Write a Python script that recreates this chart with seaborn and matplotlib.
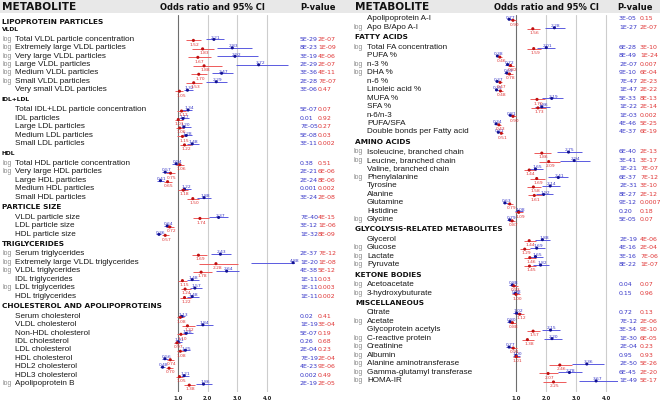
import numpy as np
import pandas as pd
import matplotlib
matplotlib.use("Agg")
import matplotlib.pyplot as plt
import matplotlib.transforms as mtransforms
import seaborn as sns

# ---------------- left panel data ----------------
left_rows = [
    ("LIPOPROTEIN PARTICLES", "h1"), ("VLDL", "h2"),
    ("Total VLDL particle concentration", "log"), ("Extremely large VLDL particles", "log"),
    ("Very large VLDL particles", "log"), ("Large VLDL particles", "log"),
    ("Medium VLDL particles", "log"), ("Small VLDL particles", "log"),
    ("Very small VLDL particles", ""),
    ("IDL+LDL", "h2"),
    ("Total IDL+LDL particle concentration", ""), ("IDL particles", ""),
    ("Large LDL particles", ""), ("Medium LDL particles", ""), ("Small LDL particles", ""),
    ("HDL", "h2"),
    ("Total HDL particle concentration", "log"), ("Very large HDL particles", "log"),
    ("Large HDL particles", ""), ("Medium HDL particles", ""), ("Small HDL particles", ""),
    ("PARTICLE SIZE", "h1"),
    ("VLDL particle size", ""), ("LDL particle size", ""), ("HDL particle size", ""),
    ("TRIGLYCERIDES", "h1"),
    ("Serum triglycerides", "log"), ("Extremely large VLDL triglycerides", "log"),
    ("VLDL triglycerides", "log"), ("IDL triglycerides", ""),
    ("LDL triglycerides", "log"), ("HDL triglycerides", ""),
    ("CHOLESTEROL AND APOLIPOPROTEINS", "h1"),
    ("Serum cholesterol", ""), ("VLDL cholesterol", ""), ("Non-HDL cholesterol", ""),
    ("IDL cholesterol", ""), ("LDL cholesterol", ""), ("HDL cholesterol", ""),
    ("HDL2 cholesterol", ""), ("HDL3 cholesterol", ""), ("Apolipoprotein B", "log"),
]
left_blue_or = [2.21, 2.83, 2.92, 3.72, 2.47, 2.29, 1.32, 1.34, 1.17, 1.20, 1.28, 1.48,
                0.94, 0.57, 0.41, 1.22, 1.88, 2.37, 0.64, 0.36, 2.43, 4.88, 2.64, 1.48,
                1.57, 1.48, 1.13, 1.84, 1.28, 1.01, 1.25, 0.56, 0.48, 1.21, 1.86]
left_blue_lo = [1.93, 2.30, 2.30, 2.96, 2.15, 1.96, 1.20, 1.15, 1.03, 1.09, 1.17, 1.31,
                0.81, 0.47, 0.31, 1.09, 1.65, 2.06, 0.53, 0.25, 2.12, 3.47, 2.29, 1.31,
                1.39, 1.31, 1.03, 1.62, 1.17, 0.91, 1.12, 0.45, 0.38, 1.09, 1.62]
left_blue_hi = [2.55, 3.50, 3.70, 4.71, 2.85, 2.66, 1.50, 1.48, 1.37, 1.43, 1.48, 1.71,
                1.09, 0.72, 0.53, 1.43, 2.10, 2.68, 0.75, 0.42, 2.79, 6.50, 3.07, 1.71,
                1.82, 1.71, 1.24, 2.18, 1.50, 1.14, 1.39, 0.68, 0.57, 1.37, 2.15]
left_red_or = [1.52, 1.83, 1.67, 1.88, 1.70, 1.53, 1.05, 1.12, 1.01, 1.06, 1.15, 1.22,
               1.06, 0.75, 0.65, 1.18, 1.50, 1.74, 0.72, 0.57, 1.69, 2.28, 1.78, 1.15,
               1.24, 1.22, 1.08, 1.32, 1.10, 0.97, 1.08, 0.74, 0.70, 1.05, 1.38]
left_red_lo = [1.28, 1.48, 1.35, 1.50, 1.43, 1.28, 0.90, 0.98, 0.90, 0.92, 0.98, 1.06,
               0.92, 0.61, 0.53, 1.01, 1.31, 1.52, 0.61, 0.45, 1.48, 1.71, 1.50, 1.01,
               1.09, 1.07, 0.98, 1.15, 0.98, 0.87, 0.97, 0.62, 0.58, 0.94, 1.20]
left_red_hi = [1.76, 2.21, 2.10, 2.47, 1.99, 1.82, 1.17, 1.26, 1.17, 1.20, 1.28, 1.43,
               1.20, 0.90, 0.79, 1.35, 1.71, 2.04, 0.87, 0.70, 1.99, 3.03, 2.15, 1.31,
               1.45, 1.43, 1.20, 1.57, 1.26, 1.08, 1.20, 0.88, 0.83, 1.17, 1.59]
left_p_blue = ["5E-29", "8E-23", "3E-19", "2E-29", "3E-36", "2E-28", "3E-06", "5E-07",
               "0.01", "7E-05", "5E-08", "3E-11", "0.38", "2E-21", "2E-24", "0.001",
               "3E-24", "7E-40", "3E-12", "1E-32", "2E-37", "1E-20", "4E-38", "1E-11",
               "1E-11", "1E-11", "0.02", "1E-19", "5E-07", "0.26", "2E-04", "7E-19",
               "4E-23", "0.002", "2E-19"]
left_p_red = ["2E-07", "1E-09", "4E-06", "2E-07", "4E-11", "7E-07", "0.47", "0.07",
              "0.92", "0.27", "0.03", "0.002", "0.51", "6E-06", "8E-06", "0.002",
              "2E-08", "4E-15", "1E-06", "8E-09", "7E-12", "1E-08", "5E-12", "0.03",
              "0.003", "0.002", "0.41", "3E-04", "0.19", "0.68", "0.23", "2E-04",
              "9E-06", "0.49", "2E-05"]

# ---------------- right panel data ----------------
right_rows = [
    ("Apolipoprotein A-I", ""), ("Apo B/Apo A-I", "log"),
    ("FATTY ACIDS", "h1"),
    ("Total FA concentration", "log"), ("PUFA %", ""), ("n-3 %", "log"), ("DHA %", "log"),
    ("n-6 %", ""), ("Linoleic acid %", ""), ("MUFA %", ""), ("SFA %", ""),
    ("n-6/n-3", ""), ("PUFA/SFA", ""), ("Double bonds per Fatty acid", ""),
    ("AMINO ACIDS", "h1"),
    ("Isoleucine, branched chain", "log"), ("Leucine, branched chain", "log"),
    ("Valine, branched chain", ""), ("Phenylalanine", "log"), ("Tyrosine", ""),
    ("Alanine", ""), ("Glutamine", ""), ("Histidine", ""), ("Glycine", "log"),
    ("GLYCOLYSIS-RELATED METABOLITES", "h1"),
    ("Glycerol", ""), ("Glucose", "log"), ("Lactate", "log"), ("Pyruvate", "log"),
    ("KETONE BODIES", "h1"),
    ("Acetoacetate", "log"), ("3-hydroxybuturate", "log"),
    ("MISCELLANEOUS", "h1"),
    ("Citrate", ""), ("Acetate", "log"), ("Glycoprotein acetyls", ""),
    ("C-reactive protein", "log"), ("Creatinine", "log"), ("Albumin", "log"),
    ("Alanine aminotransferase", "log"), ("Gamma-glutamyl transferase", "log"),
    ("HOMA-IR", "log"),
]
right_blue_or = [0.77, 2.28, 2.01, 0.38, 0.72, 0.69, 0.37, 0.35, 2.19, 1.86, 0.81, 0.34,
                 0.41, 2.75, 2.94, 1.65, 2.41, 2.14, 1.92, 0.63, 1.08, 0.79, 1.88, 1.69,
                 1.65, 1.82, 0.88, 0.98, 1.02, 0.80, 2.15, 2.20, 0.77, 1.00, 3.36, 2.78, 3.67]
right_blue_lo = [0.69, 1.97, 1.69, 0.32, 0.63, 0.60, 0.31, 0.29, 1.86, 1.62, 0.72, 0.28,
                 0.35, 2.36, 2.47, 1.42, 2.08, 1.86, 1.66, 0.55, 0.95, 0.69, 1.63, 1.47,
                 1.43, 1.58, 0.78, 0.87, 0.90, 0.70, 1.88, 1.92, 0.68, 0.89, 2.86, 2.41, 3.11]
right_blue_hi = [0.87, 2.63, 2.30, 0.45, 0.83, 0.79, 0.44, 0.42, 2.55, 2.14, 0.92, 0.41,
                 0.48, 3.19, 3.47, 1.90, 2.74, 2.47, 2.22, 0.73, 1.22, 0.90, 2.13, 1.95,
                 1.90, 2.09, 0.99, 1.10, 1.15, 0.91, 2.47, 2.52, 0.88, 1.12, 3.92, 3.21, 4.55]
right_red_or = [0.90, 1.56, 1.59, 0.46, 0.82, 0.78, 0.47, 0.48, 1.70, 1.73, 0.90, 0.43,
                0.51, 1.86, 2.09, 1.44, 1.69, 1.58, 1.61, 0.79, 1.09, 0.87, 1.44, 1.29,
                1.46, 1.45, 0.93, 1.00, 1.12, 0.88, 1.57, 1.38, 0.91, 1.01, 2.46, 2.07, 2.25]
right_red_lo = [0.81, 1.35, 1.38, 0.40, 0.72, 0.68, 0.41, 0.42, 1.47, 1.50, 0.80, 0.37,
                0.45, 1.60, 1.78, 1.26, 1.46, 1.37, 1.39, 0.69, 0.96, 0.77, 1.25, 1.13,
                1.27, 1.26, 0.82, 0.88, 0.98, 0.78, 1.37, 1.20, 0.80, 0.89, 2.11, 1.78, 1.90]
right_red_hi = [1.00, 1.80, 1.83, 0.53, 0.94, 0.89, 0.54, 0.55, 1.97, 2.00, 1.01, 0.50,
                0.58, 2.16, 2.47, 1.65, 1.96, 1.82, 1.86, 0.90, 1.24, 0.98, 1.66, 1.47,
                1.68, 1.67, 1.05, 1.13, 1.28, 0.99, 1.80, 1.59, 1.03, 1.14, 2.87, 2.41, 2.67]
right_p_blue = ["3E-05", "1E-27", "6E-28", "8E-49", "2E-07", "9E-10", "7E-47", "1E-47",
                "5E-33", "1E-22", "1E-03", "4E-46", "4E-37", "6E-40", "3E-41", "1E-21",
                "6E-37", "2E-31", "8E-27", "9E-12", "0.20", "5E-05", "2E-19", "4E-16",
                "3E-16", "8E-22", "0.04", "0.15", "0.72", "7E-12", "3E-34", "1E-30",
                "2E-04", "0.95", "2E-50", "6E-45", "1E-49"]
right_p_red = ["0.15", "2E-07", "3E-10", "1E-24", "0.007", "6E-04", "2E-23", "2E-22",
               "8E-13", "2E-14", "0.002", "5E-25", "6E-19", "2E-13", "3E-17", "7E-07",
               "7E-12", "3E-10", "2E-12", "0.0007", "0.18", "0.07", "4E-06", "2E-04",
               "7E-06", "1E-07", "0.07", "0.96", "0.13", "2E-06", "9E-10", "6E-05",
               "0.23", "0.93", "5E-26", "2E-20", "5E-17"]

tick_vals = [1, 2, 3, 4]
tick_labels = ["1.0", "2.0", "3.0", "4.0"]

BLUE_LINE, BLUE_DOT, BLUE_TXT = "#5a5ae0", "#101090", "#3535c8"
RED_LINE, RED_DOT, RED_TXT = "#ee5a5a", "#c01010", "#e03535"

W, H = 660, 402
ROW_PX = 8.47   # height of one metabolite row in pixels

sns.set_style("white")
plt.rcParams["font.family"] = ["Liberation Sans", "DejaVu Sans"]

fig = plt.figure(figsize=(W / 100, H / 100), dpi=100)


def row_positions(rows):
    # headers get a bit more room above and below than plain rows
    ys, y, prev = [], 0.0, None
    for _, kind in rows:
        if prev is not None:
            a, b = prev.startswith("h"), kind.startswith("h")
            if a and b:
                y += 0.85
            elif a or b:
                y += 1.17
            else:
                y += 1.0
        ys.append(y)
        prev = kind
    return ys


def panel(rows, b_or, b_lo, b_hi, r_or, r_lo, r_hi, p_b, p_r,
          ax_px, unit_px, first_px, x_log, x_name, x_head, x_pb, x_pr):
    left_px, right_px = ax_px  # odds ratio 0 sits at left_px
    ax = fig.add_axes([left_px / W, (H - 393) / H, (right_px - left_px) / W, (393 - 16) / H])
    tr = mtransforms.blended_transform_factory(fig.transFigure, ax.transData)

    ys = row_positions(rows)
    item_y = np.array([y for y, (_, k) in zip(ys, rows) if not k.startswith("h")])

    # row labels
    for y, (label, kind) in zip(ys, rows):
        if kind.startswith("h"):
            ax.text(x_head / W, y, label, transform=tr, va="center", ha="left",
                    fontsize=5.3 if kind == "h1" else 4.3, fontweight="bold",
                    family="DejaVu Sans", color="#111111")
            continue
        if kind == "log":
            ax.text(x_log / W, y, "log", transform=tr, va="center", ha="left",
                    fontsize=5.0, color="#8c8c8c")
        ax.text(x_name / W, y, label, transform=tr, va="center", ha="left",
                fontsize=5.9, color="#1a1a1a")

    # odds ratios + CI
    df = pd.DataFrame({
        "y": np.concatenate([item_y + 0.15, item_y + 0.27]),
        "odds": np.concatenate([b_or, r_or]),
        "grp": ["blue"] * len(b_or) + ["red"] * len(r_or),
    })
    ax.hlines(item_y + 0.15, b_lo, b_hi, color=BLUE_LINE, lw=0.7, zorder=2)
    ax.hlines(item_y + 0.27, r_lo, r_hi, color=RED_LINE, lw=0.7, zorder=2)
    sns.scatterplot(data=df, x="odds", y="y", hue="grp",
                    palette={"blue": BLUE_DOT, "red": RED_DOT},
                    s=5, linewidth=0, legend=False, ax=ax, zorder=3)

    for y, v in zip(item_y, b_or):
        ax.text(v + 0.05, y - 0.17, f"{v:.2f}", ha="center", va="center",
                fontsize=3.2, family="DejaVu Sans", color=BLUE_TXT, clip_on=False)
    for y, v in zip(item_y, r_or):
        ax.text(v + 0.05, y + 0.66, f"{v:.2f}", ha="center", va="center",
                fontsize=3.2, family="DejaVu Sans", color=RED_TXT, clip_on=False)

    # p-values
    for y, pb, pr in zip(item_y, p_b, p_r):
        ax.text(x_pb / W, y, pb, transform=tr, ha="left", va="center",
                fontsize=4.5, family="DejaVu Sans", color=BLUE_TXT)
        ax.text(x_pr / W, y, pr, transform=tr, ha="left", va="center",
                fontsize=4.5, family="DejaVu Sans", color=RED_TXT)

    ax.axvline(1, color="#6e6e6e", lw=0.8, zorder=1)
    for v in tick_vals[1:]:
        ax.axvline(v, color="#cdcdcd", lw=0.8, zorder=1)

    ax.set_xlim(0, (right_px - left_px) / unit_px)
    ax.set_ylim((393 - first_px) / ROW_PX, (16 - first_px) / ROW_PX)
    ax.set_xticks(tick_vals)
    ax.set_xticklabels(tick_labels, fontsize=3.8, fontweight="bold",
                       family="DejaVu Sans", color="#222222")
    ax.tick_params(axis="x", length=0, pad=2.5)
    ax.set_yticks([])
    ax.set_xlabel("")
    ax.set_ylabel("")
    ax.patch.set_alpha(0)
    for s in ax.spines.values():
        s.set_visible(False)
    return ax


# grey title band
band = fig.add_axes([0, (H - 14) / H, 1, 14 / H], zorder=-1)
band.set_facecolor("#e8e8e8")
band.set_xticks([])
band.set_yticks([])
for s in band.spines.values():
    s.set_visible(False)

for x_met, x_odds, x_p in [(2, 212, 300), (355, 546, 617)]:
    fig.text(x_met / W, 1 - 7.5 / H, "METABOLITE", ha="left", va="center",
             fontsize=7.6, fontweight="bold", family="DejaVu Sans", color="#111111")
    fig.text(x_odds / W, 1 - 7.5 / H, "Odds ratio and 95% CI", ha="center", va="center",
             fontsize=6, fontweight="bold", family="DejaVu Sans", color="#111111")
    fig.text(x_p / W, 1 - 7.5 / H, "P-value", ha="left", va="center",
             fontsize=6, fontweight="bold", family="DejaVu Sans", color="#111111")

panel(left_rows, left_blue_or, left_blue_lo, left_blue_hi,
      left_red_or, left_red_lo, left_red_hi, left_p_blue, left_p_red,
      ax_px=(148.3, 295), unit_px=29.67, first_px=22,
      x_log=2.5, x_name=15, x_head=2, x_pb=300, x_pr=318)

panel(right_rows, right_blue_or, right_blue_lo, right_blue_hi,
      right_red_or, right_red_lo, right_red_hi, right_p_blue, right_p_red,
      ax_px=(486, 618), unit_px=30, first_px=19,
      x_log=353.5, x_name=367, x_head=355, x_pb=619, x_pr=640)

fig.savefig("out.png", dpi=100)
